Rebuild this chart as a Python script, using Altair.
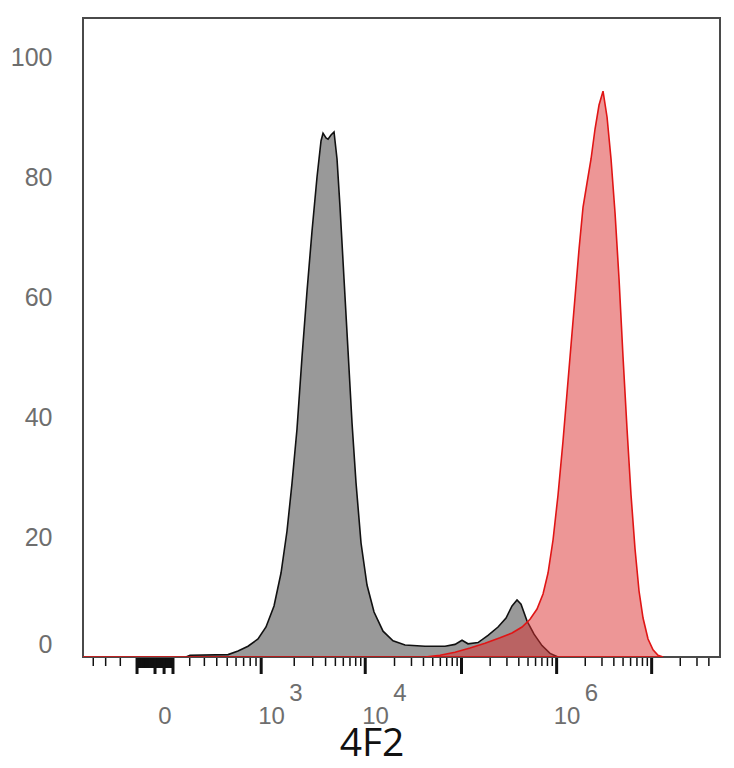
import altair as alt
import pandas as pd

# ---- data (intensity on the 4F2 channel, event count) ----
gray_intensity = [177, 202, 509, 625, 765, 937, 1104, 1303, 1509, 1713,
                  1907, 2123, 2368, 2643, 2952, 3300, 3609, 3776, 4041, 4229,
                  4526, 4847, 5192, 5562, 6099, 6694, 7343, 8062, 9060, 10425,
                  12300, 15220, 19300, 25710, 41530, 67210, 85540, 101300, 117000, 149100,
                  189900, 241900, 293600, 339500, 383100, 422000, 488100, 578300, 701900, 852100,
                  1034000]
gray_count = [0, 0.3, 0.4, 1.0, 1.8, 3.0, 5, 8.5, 14, 21,
              29, 38, 50, 61, 71, 80, 86, 87.3, 86.5, 86.3,
              87.0, 87.5, 83, 75, 63, 51, 39, 29, 19, 12,
              7.5, 4.3, 2.7, 2.0, 1.8, 1.8, 2.1, 2.8, 2.2, 2.4,
              3.6, 5.0, 6.5, 8.5, 9.5, 8.8, 6.0, 3.8, 1.9, 0.6,
              0]

red_intensity = [-600, 41530, 59570, 85540, 122900, 176600, 253800, 339500, 432400, 524800,
                 621900, 719100, 811700, 916200, 1034000, 1167000, 1286000, 1417000, 1562000, 1721000,
                 1896000, 2088000, 2301000, 2535000, 2793000, 3077000, 3391000, 3736000, 4117000, 4536000,
                 4996000, 5505000, 6065000, 6683000, 7363000, 8113000, 9158000, 10340000, 11670000, 13180000]
red_count = [0, 0, 0.3, 0.8, 1.5, 2.3, 3.2, 4.0, 5.0, 6.3,
             8.0, 10.5, 14, 19.5, 27, 36, 44, 52, 60, 68,
             75, 79, 83, 88, 92, 94.3, 90, 83, 74, 63,
             50, 38, 27, 18, 11, 6.5, 3, 1.2, 0.3, 0]

# axis ticks (intensity values)
major_ticks = [-100, 0, 50, 100, 1000, 10000, 100000, 1000000, 10000000]
lin_ticks = [v for v in range(-95, 100, 5) if v not in (-100, 0, 50, 100)]
minor_ticks = [-400, -300, -200] + [m * 10 ** e for e in range(2, 7) for m in range(2, 10)] + [2e7, 3e7, 4e7]
label_values = [1000, 10000, 1000000]
label_exps = ["3", "4", "6"]
y_ticks = [0, 20, 40, 60, 80, 100]
x_title = "4F2"

# ---- logicle-style display transform, done in Vega expressions ----
A, P, P2 = 59.2, 2.83, 8.01


def newton(prev):
    t = f"datum.{prev}"
    f = f"({A}*(pow(10,{t}) - {P2}*pow(10,-{t}/{P}) + {P2 - 1:.2f}) - datum.av)"
    df = f"({A}*LN10*(pow(10,{t}) + {P}*pow(10,-{t}/{P})))"
    return f"{t} - {f}/{df}"


def logicle(ch):
    ch = ch.transform_calculate(av="abs(datum.v)")
    ch = ch.transform_calculate(t0=f"log(datum.av/{A}+1)/LN10")
    for i in range(1, 9):
        ch = ch.transform_calculate(**{f"t{i}": newton(f"t{i-1}")})
    return ch.transform_calculate(d="datum.v < 0 ? -datum.t8 : datum.t8")


W, H = 637, 639
xscale = alt.Scale(domain=[-0.758, 5.947], nice=False, zero=False)
X = alt.X("d:Q", scale=xscale, axis=None)
yscale = alt.Scale(domain=[0, 106.5], nice=False, zero=True)
yaxis = alt.Axis(values=y_ticks, ticks=False, domain=False, grid=False, title=None,
                 labelFont="Liberation Sans", labelFontSize=25, labelColor="#6e6e6e",
                 labelPadding=31, labelFlush=True)

gray = logicle(alt.Chart(pd.DataFrame({"v": gray_intensity, "c": gray_count}))).mark_area(
    fill="#999999", stroke="#111111", strokeWidth=1.6, clip=True
).encode(x=X, y=alt.Y("c:Q", scale=yscale, axis=yaxis))

red = logicle(alt.Chart(pd.DataFrame({"v": red_intensity, "c": red_count}))).mark_area(
    fill="#dc2e2e", fillOpacity=0.5, stroke="#e01515", strokeWidth=1.6, clip=True
).encode(x=X, y=alt.Y("c:Q", scale=yscale, axis=yaxis))


def rules(vals, y2, width):
    return logicle(alt.Chart(pd.DataFrame({"v": vals}))).mark_rule(
        color="#111111", strokeWidth=width
    ).encode(x=X, y=alt.value(H + 1), y2=alt.value(y2))


minor_r = rules(minor_ticks, H + 9, 1.5)
lin_r = rules(lin_ticks, H + 11, 2)
major_r = rules(major_ticks, H + 17, 3)

lab_font = dict(font="Liberation Sans", fontSize=24, color="#6e6e6e")
zero_lab = logicle(alt.Chart(pd.DataFrame({"v": [0], "s": ["0"]}))).mark_text(
    align="center", baseline="alphabetic", dx=10, **lab_font
).encode(x=X, y=alt.value(H + 67), text="s:N")
ten_lab = logicle(alt.Chart(pd.DataFrame({"v": label_values, "e": label_exps}))).mark_text(
    align="left", baseline="alphabetic", dx=-3, text="10", **lab_font
).encode(x=X, y=alt.value(H + 67))
exp_lab = logicle(alt.Chart(pd.DataFrame({"v": label_values, "e": label_exps}))).mark_text(
    align="left", baseline="alphabetic", dx=28, **lab_font
).encode(x=X, y=alt.value(H + 44), text="e:N")

title = alt.Chart(pd.DataFrame({"s": [x_title]})).mark_text(
    align="center", baseline="alphabetic", font="Open Sans", fontSize=39, color="#111111"
).encode(x=alt.value(289), y=alt.value(H + 99), text="s:N")

chart = alt.layer(gray, red, minor_r, lin_r, major_r, zero_lab, ten_lab, exp_lab, title).properties(
    width=W, height=H,
    padding={"left": 83, "top": 18, "right": 14, "bottom": 111},
    autosize=alt.AutoSizeParams(type="none"),
    background="white",
).configure_view(stroke="#4a4a4a", strokeWidth=2, strokeOpacity=1)

chart.save("out.html", embed_options={"renderer": "svg", "actions": False})
